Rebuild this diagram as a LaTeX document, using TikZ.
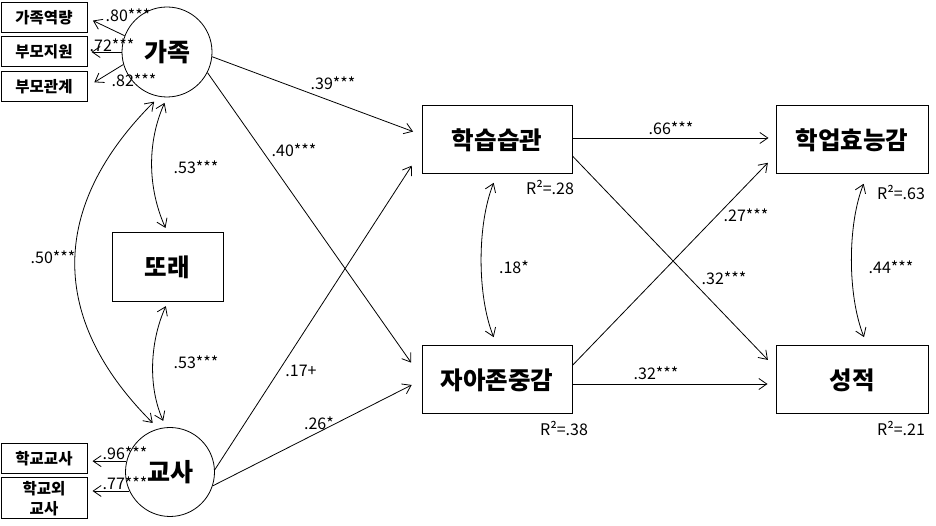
\documentclass[tikz,border=0pt]{standalone}
\usepackage{fontspec}
\setmainfont{Noto Sans CJK KR}
\newfontfamily\kr{Noto Sans CJK KR}
\usetikzlibrary{arrows.meta}
\tikzset{
  lat/.style={circle, draw, line width=0.8pt, minimum size=90pt, inner sep=0pt,
              font=\kr\bfseries\fontsize{25}{28}\selectfont},
  obs/.style={rectangle, draw, line width=1pt, inner sep=0pt, minimum width=150pt,
              minimum height=68pt, font=\kr\bfseries\fontsize{24.5}{28}\selectfont},
  ind/.style={rectangle, draw, line width=1pt, inner sep=0pt, minimum width=86pt,
              minimum height=30pt, align=center,
              font=\kr\bfseries\fontsize{15.5}{19.5}\selectfont},
  tipv/.tip={Straight Barb[length=8pt,width=11pt]},
  arr/.style={-tipv, line width=0.8pt},
  dbl/.style={tipv-tipv, line width=0.8pt},
  lab/.style={inner sep=0pt, font=\kr\fontsize{16}{18}\selectfont},
}
\begin{document}
\begin{tikzpicture}[x=1pt,y=1pt]
\useasboundingbox (0,0) rectangle (936,526);

% latent variables
\node[lat] (fam) at (167,474) {가족};
\node[lat, minimum size=89pt] (tea) at (170,54) {교사};
\node[obs, minimum width=111pt, minimum height=69pt] (peer) at (167.5,258.5) {또래};
\node[obs] (hab) at (497,386) {학습습관};
\node[obs] (est) at (497,146) {자아존중감};
\node[obs, minimum width=152pt] (eff) at (852,386) {학업효능감};
\node[obs, minimum width=152pt] (grd) at (852,146) {성적};

% indicators
\node[ind] (i1) at (44,508) {가족역량};
\node[ind] (i2) at (44,474) {부모지원};
\node[ind] (i3) at (44,439.5) {부모관계};
\node[ind] (t1) at (44,67) {학교교사};
\node[ind, minimum height=41pt] (t2) at (44,27.5) {학교외\\교사};

% indicator loadings
\draw[arr, shorten >=6pt] (fam.159) -- (i1.east);
\draw[arr, shorten >=4pt] (fam.west) -- (i2.east);
\draw[arr, shorten >=8pt] (fam.196) -- (i3.east);
\draw[arr, shorten >=5pt] (tea.166) -- (tea.166 -| t1.east);
\draw[arr, shorten >=5pt] (tea.205) -- (tea.205 -| t2.east);

\node[lab] (l1) at (128,511) {.80***};
\node[lab] (l2) at (112,481) {.72***};
\node[lab] (l3) at (134,446) {.82***};
\node[lab] (l4) at (125,73) {.96***};
\node[lab] (l5) at (125,43) {.77***};

% structural paths
\draw[arr, shorten >=9pt] (fam.354) -- (hab.176);
\draw[arr, shorten >=18pt] (fam.333) -- (est.178);
\draw[arr, shorten >=18pt] (tea.3) -- (hab.188);
\draw[arr, shorten >=11pt] (tea.342) -- (est.west);
\draw[arr, shorten >=7pt] ([yshift=2pt]hab.east) -- ([yshift=2pt]eff.west);
\draw[arr, shorten >=11pt] (hab.348.7) -- (grd.171.3);
\draw[arr, shorten >=11pt] (est.11.3) -- (eff.191);
\draw[arr, shorten >=8pt] ([yshift=-4pt]est.east) -- ([yshift=-4pt]grd.west);

\node[lab] (p1) at (333,443) {.39***};
\node[lab] (p2) at (294,376) {.40***};
\node[lab] (p3) at (301,155) {.17+};
\node[lab] (p4) at (319,103) {.26*};
\node[lab] (p5) at (671,398) {.66***};
\node[lab] (p6) at (724,248) {.32***};
\node[lab] (p7) at (746,311) {.27***};
\node[lab] (p8) at (656,153) {.32***};

% correlations
\draw[dbl, shorten <=6pt, shorten >=5pt] (fam.south) .. controls +(-20,-45) and +(-20,45) .. (peer.north);
\draw[dbl, shorten <=4pt, shorten >=7pt] (peer.south) .. controls +(-18,-40) and +(-18,40) .. (tea.95);
\draw[dbl, shorten <=7pt, shorten >=8pt] (fam.260) .. controls +(-110,-110) and +(-110,110) .. (tea.105);
\draw[dbl, shorten <=9pt, shorten >=9pt] (hab.south) .. controls +(-20,-50) and +(-20,50) .. (est.north);
\draw[dbl, shorten <=10pt, shorten >=9pt] (eff.294) .. controls +(-20,-50) and +(-20,50) .. (grd.66);

\node[lab] (c1) at (196,359) {.53***};
\node[lab] (c2) at (196,164) {.53***};
\node[lab] (c3) at (53,269) {.50***};
\node[lab] (c4) at (514,259) {.18*};
\node[lab] (c5) at (891,259) {.44***};

% R squared
\node[lab] (r1) at (550,339) {R²=.28};
\node[lab] (r2) at (564,98) {R²=.38};
\node[lab] (r3) at (901,334) {R²=.63};
\node[lab] (r4) at (901,98) {R²=.21};
\end{tikzpicture}
\end{document}
